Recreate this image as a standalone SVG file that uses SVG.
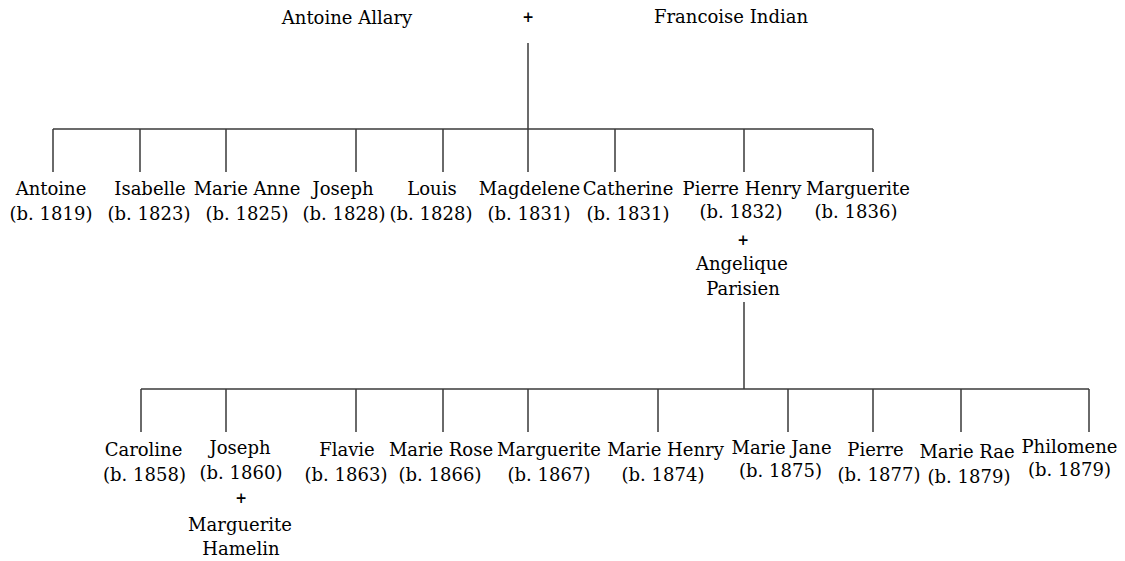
<svg xmlns="http://www.w3.org/2000/svg" width="1125" height="561" viewBox="0 0 1125 561">
  <style>
    text { font-family: "DejaVu Serif", "Liberation Serif", serif; font-size: 18px; fill: #000; text-anchor: middle; }
    text.plus { font-size: 14px; font-weight: bold; }
    .line { stroke: #3a3a3a; stroke-width: 1.5; fill: none; stroke-linecap: butt; }
  </style>
  <rect width="1125" height="561" fill="#ffffff"/>

  <!-- connectors -->
  <g id="connectors" class="line">
    <!-- parents to first generation -->
    <path d="M528,43 V129"/>
    <path d="M53,129 H873"/>
    <path d="M53,129 V172 M140,129 V172 M226,129 V172 M356,129 V172 M443,129 V172 M528,129 V172 M615,129 V172 M744,129 V172 M873,129 V172"/>
    <!-- Pierre Henry + Angelique to their children -->
    <path d="M744,302 V389"/>
    <path d="M141,389 H1089"/>
    <path d="M141,389 V432 M226,389 V432 M356,389 V432 M443,389 V432 M528,389 V432 M658,389 V432 M788,389 V432 M873,389 V432 M961,389 V432 M1089,389 V432"/>
  </g>

  <!-- parents -->
  <g id="antoine-allary"><text x="347" y="24">Antoine Allary</text></g>
  <g id="parents-union"><text class="plus" x="528" y="22">+</text></g>
  <g id="francoise-indian"><text x="731" y="22.5">Francoise Indian</text></g>

  <!-- first generation -->
  <g id="antoine"><text x="51" y="195">Antoine</text><text x="51" y="220">(b. 1819)</text></g>
  <g id="isabelle"><text x="150" y="195">Isabelle</text><text x="149" y="220">(b. 1823)</text></g>
  <g id="marie-anne"><text x="247" y="195">Marie Anne</text><text x="247" y="220">(b. 1825)</text></g>
  <g id="joseph-1828"><text x="343" y="195">Joseph</text><text x="344" y="220">(b. 1828)</text></g>
  <g id="louis"><text x="432" y="195">Louis</text><text x="431" y="220">(b. 1828)</text></g>
  <g id="magdelene"><text x="529.5" y="195">Magdelene</text><text x="529" y="220">(b. 1831)</text></g>
  <g id="catherine"><text x="628" y="195">Catherine</text><text x="628" y="220">(b. 1831)</text></g>
  <g id="pierre-henry">
    <text x="742" y="195">Pierre Henry</text>
    <text x="741" y="218">(b. 1832)</text>
    <text class="plus" x="743" y="244.5">+</text>
    <text x="742" y="270">Angelique</text>
    <text x="743" y="295">Parisien</text>
  </g>
  <g id="marguerite-1836"><text x="858" y="195">Marguerite</text><text x="856" y="218">(b. 1836)</text></g>

  <!-- second generation -->
  <g id="caroline"><text x="143.5" y="456">Caroline</text><text x="144.5" y="481">(b. 1858)</text></g>
  <g id="joseph-1860">
    <text x="240" y="454">Joseph</text>
    <text x="241" y="479">(b. 1860)</text>
    <text class="plus" x="241" y="502.5">+</text>
    <text x="240" y="530.5">Marguerite</text>
    <text x="241" y="555">Hamelin</text>
  </g>
  <g id="flavie"><text x="347" y="456">Flavie</text><text x="346" y="481">(b. 1863)</text></g>
  <g id="marie-rose"><text x="441" y="456">Marie Rose</text><text x="440" y="481">(b. 1866)</text></g>
  <g id="marguerite-1867"><text x="549" y="456">Marguerite</text><text x="549" y="481">(b. 1867)</text></g>
  <g id="marie-henry"><text x="665.5" y="456">Marie Henry</text><text x="663" y="481">(b. 1874)</text></g>
  <g id="marie-jane"><text x="781.5" y="454">Marie Jane</text><text x="780.5" y="477">(b. 1875)</text></g>
  <g id="pierre"><text x="875.5" y="456">Pierre</text><text x="879" y="481">(b. 1877)</text></g>
  <g id="marie-rae"><text x="967" y="458">Marie Rae</text><text x="969" y="483">(b. 1879)</text></g>
  <g id="philomene"><text x="1069.5" y="453">Philomene</text><text x="1069.5" y="476">(b. 1879)</text></g>
</svg>
